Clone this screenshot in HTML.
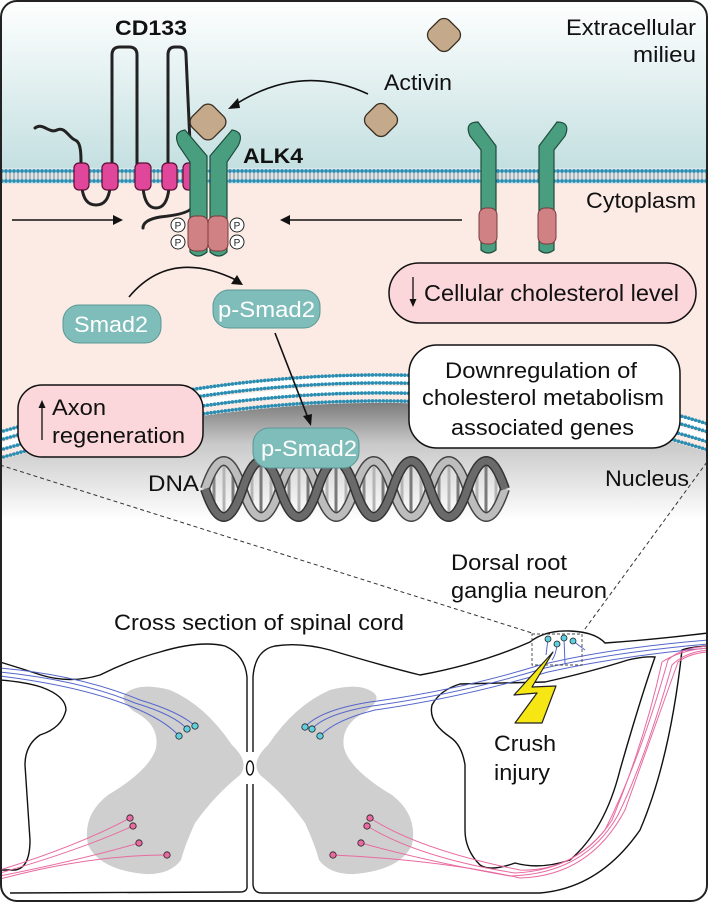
<!DOCTYPE html>
<html><head><meta charset="utf-8"><style>
html,body{margin:0;padding:0;background:#fff;}
svg{display:block;}
text{font-family:"Liberation Sans",Arial,sans-serif;}
</style></head><body>
<svg width="708" height="902" viewBox="0 0 708 902" xmlns="http://www.w3.org/2000/svg">
<defs>
<linearGradient id="ec" x1="0" y1="0" x2="0" y2="1">
<stop offset="0" stop-color="#ffffff"/><stop offset="1" stop-color="#c3dfe0"/>
</linearGradient>
<linearGradient id="nuc" x1="0" y1="0" x2="0" y2="1">
<stop offset="0" stop-color="#7d7d7d"/><stop offset="0.35" stop-color="#c9c9c9"/><stop offset="1" stop-color="#ffffff"/>
</linearGradient>
<pattern id="mem" x="0" y="168" width="4" height="16" patternUnits="userSpaceOnUse">
<rect width="4" height="16" fill="#d9e6ea"/>
<line x1="2" y1="3" x2="2" y2="13" stroke="#8a8a8a" stroke-width="1"/>
<circle cx="2" cy="3" r="1.9" fill="#2a8db2"/>
<circle cx="2" cy="13" r="1.9" fill="#2a8db2"/>
</pattern>
<clipPath id="frame"><rect x="1" y="1" width="706" height="900" rx="16"/></clipPath>
</defs>

<g clip-path="url(#frame)">
<rect x="0" y="0" width="708" height="172" fill="url(#ec)"/>
<rect x="0" y="180" width="708" height="300" fill="#fcebe4"/>
<path d="M0,460 Q380,350 708,452 L708,520 L0,520 Z" fill="url(#nuc)"/>
<rect x="0" y="520" width="708" height="382" fill="#fff"/>
<rect x="0" y="168" width="708" height="16" fill="url(#mem)"/>
<g fill="none" stroke-linecap="round">
<path d="M0,436 Q380,326 708,428" stroke="#fff" stroke-width="6"/>
<path d="M0,446 Q380,336 708,438" stroke="#fff" stroke-width="6"/>
<path d="M0,432 Q380,322 708,424" stroke="#2a8db2" stroke-width="3.6" stroke-dasharray="0 3.6"/>
<path d="M0,440 Q380,330 708,432" stroke="#2a8db2" stroke-width="3.6" stroke-dasharray="0 3.6"/>
<path d="M0,450 Q380,340 708,442" stroke="#2a8db2" stroke-width="3.6" stroke-dasharray="0 3.6"/>
<path d="M0,458 Q380,348 708,450" stroke="#2a8db2" stroke-width="3.6" stroke-dasharray="0 3.6"/>
</g>

<line x1="0" y1="465" x2="532" y2="633" stroke="#333" stroke-width="1" stroke-dasharray="4 3"/>
<line x1="707" y1="462" x2="582" y2="633" stroke="#333" stroke-width="1" stroke-dasharray="4 3"/>

<!-- DNA -->
<g>
<g stroke-width="3">
<line x1="214" y1="468" x2="214" y2="510" stroke="#8a8a8a"/><line x1="224" y1="461" x2="224" y2="517" stroke="#b5b5b5"/><line x1="233" y1="468" x2="233" y2="510" stroke="#7a7a7a"/>
<line x1="252" y1="468" x2="252" y2="510" stroke="#b5b5b5"/><line x1="261" y1="461" x2="261" y2="517" stroke="#7a7a7a"/><line x1="271" y1="468" x2="271" y2="510" stroke="#b5b5b5"/>
<line x1="289" y1="468" x2="289" y2="510" stroke="#8a8a8a"/><line x1="299" y1="461" x2="299" y2="517" stroke="#b5b5b5"/><line x1="308" y1="468" x2="308" y2="510" stroke="#7a7a7a"/>
<line x1="327" y1="468" x2="327" y2="510" stroke="#b5b5b5"/><line x1="336" y1="461" x2="336" y2="517" stroke="#7a7a7a"/><line x1="346" y1="468" x2="346" y2="510" stroke="#b5b5b5"/>
<line x1="364" y1="468" x2="364" y2="510" stroke="#8a8a8a"/><line x1="374" y1="461" x2="374" y2="517" stroke="#b5b5b5"/><line x1="383" y1="468" x2="383" y2="510" stroke="#7a7a7a"/>
<line x1="402" y1="468" x2="402" y2="510" stroke="#b5b5b5"/><line x1="411" y1="461" x2="411" y2="517" stroke="#7a7a7a"/><line x1="421" y1="468" x2="421" y2="510" stroke="#b5b5b5"/>
<line x1="439" y1="468" x2="439" y2="510" stroke="#8a8a8a"/><line x1="449" y1="461" x2="449" y2="517" stroke="#b5b5b5"/><line x1="458" y1="468" x2="458" y2="510" stroke="#7a7a7a"/>
<line x1="477" y1="468" x2="477" y2="510" stroke="#b5b5b5"/><line x1="486" y1="461" x2="486" y2="517" stroke="#7a7a7a"/><line x1="496" y1="468" x2="496" y2="510" stroke="#b5b5b5"/>
</g>
<path d="M205,489 q18.75,-56 37.5,0 t37.5,0 t37.5,0 t37.5,0 t37.5,0 t37.5,0 t37.5,0 t37.5,0" fill="none" stroke="#444" stroke-width="10"/>
<path d="M205,489 q18.75,-56 37.5,0 t37.5,0 t37.5,0 t37.5,0 t37.5,0 t37.5,0 t37.5,0 t37.5,0" fill="none" stroke="#bdbdbd" stroke-width="7"/>
<path d="M205,489 q18.75,56 37.5,0 t37.5,0 t37.5,0 t37.5,0 t37.5,0 t37.5,0 t37.5,0 t37.5,0" fill="none" stroke="#333" stroke-width="10"/>
<path d="M205,489 q18.75,56 37.5,0 t37.5,0 t37.5,0 t37.5,0 t37.5,0 t37.5,0 t37.5,0 t37.5,0" fill="none" stroke="#6a6a6a" stroke-width="7"/>
</g>

<!-- CD133 -->
<g fill="none" stroke="#222" stroke-width="3" stroke-linecap="round">
<path d="M35,128 c8,-6 14,6 22,2 c8,-4 12,8 18,10 c6,2 6,14 6,23"/>
<path d="M112,165 L112,55 Q112,47 120,47 L129,47 Q137,47 137,55 L137,165"/>
<path d="M168,165 L168,55 Q168,47 175,47 L179,47 Q186,47 186,55 L191,165"/>
<path d="M82,188 Q84,205 96,205 Q108,205 110,188"/>
<path d="M143,188 Q145,208 156,208 Q167,208 169,188"/>
<path d="M192,190 L192,207 Q190,214 160,217 Q143,220 143,228"/>
</g>
<g fill="#e0479a" stroke="#5a1035" stroke-width="1.2">
<rect x="74" y="163" width="15" height="27" rx="5"/>
<rect x="102" y="163" width="16" height="27" rx="5"/>
<rect x="135" y="163" width="16" height="27" rx="5"/>
<rect x="162" y="163" width="15" height="27" rx="5"/>
<rect x="183" y="163" width="16" height="27" rx="5"/>
</g>

<g fill="#4a9e80" stroke="#1e4d3d" stroke-width="1.2">
<path d="M190,252 L190,162 L179,146 Q172,132 185,130 L207,156 L207,252 Q198,260 190,252 Z"/>
<path d="M210,252 L210,156 L232,130 Q245,132 238,146 L227,162 L227,252 Q219,260 210,252 Z"/>
<path d="M481,250 L481,150 L470,136 Q464,122 478,122 L496,146 L496,250 Q488,256 481,250 Z"/>
<path d="M539,250 L539,146 L557,122 Q571,122 565,136 L554,150 L554,250 Q546,256 539,250 Z"/>
</g>
<g fill="#d08184" stroke="#7a3a3c" stroke-width="1">
<rect x="188" y="216" width="20" height="35" rx="7"/>
<rect x="208" y="216" width="20" height="35" rx="7"/>
<rect x="479" y="208" width="18" height="36" rx="7"/>
<rect x="538" y="208" width="18" height="36" rx="7"/>
</g>
<g fill="#fff" stroke="#222" stroke-width="1">
<circle cx="178" cy="225" r="7"/><circle cx="178" cy="242" r="7"/>
<circle cx="237" cy="225" r="7"/><circle cx="237" cy="242" r="7"/>
</g>
<g font-size="10" text-anchor="middle" fill="#222">
<text x="178" y="229">P</text><text x="178" y="246">P</text>
<text x="237" y="229">P</text><text x="237" y="246">P</text>
</g>

<g fill="#c4a98a" stroke="#3a2e22" stroke-width="1.3">
<rect x="-15" y="-15" width="30" height="30" rx="8" transform="translate(208,122) rotate(45)"/>
<rect x="-14" y="-14" width="28" height="28" rx="8" transform="translate(381,120) rotate(45)"/>
<rect x="-14" y="-14" width="28" height="28" rx="8" transform="translate(444,35) rotate(45)"/>
</g>

<!-- Smad pills -->
<rect x="63" y="305" width="98" height="38" rx="16" fill="#7fbdba" stroke="#5a9794" stroke-width="1"/>
<rect x="213" y="290" width="107" height="38" rx="16" fill="#7fbdba" stroke="#5a9794" stroke-width="1"/>
<rect x="253" y="428" width="106" height="40" rx="16" fill="#7fbdba" stroke="#5a9794" stroke-width="1"/>
<g fill="#fff" font-size="22">
<text x="74" y="332" textLength="74" lengthAdjust="spacingAndGlyphs">Smad2</text>
<text x="218" y="317" textLength="97" lengthAdjust="spacingAndGlyphs">p-Smad2</text>
<text x="261" y="456" textLength="96" lengthAdjust="spacingAndGlyphs">p-Smad2</text>
</g>

<!-- boxes -->
<rect x="389" y="263" width="307" height="60" rx="30" fill="#fbd6da" stroke="#111" stroke-width="1.5"/>
<rect x="409" y="345" width="271" height="103" rx="28" fill="#fff" stroke="#111" stroke-width="1.5"/>
<rect x="18" y="385" width="185" height="72" rx="24" fill="#fbd6da" stroke="#111" stroke-width="1.5"/>

<!-- arrows -->
<g stroke="#111" stroke-width="1.6" fill="none">
<path d="M368,94 Q300,62 233,106"/>
<line x1="12" y1="220" x2="116" y2="220"/>
<line x1="462" y1="220" x2="287" y2="220"/>
<path d="M129,297 Q170,248 236,280"/>
<line x1="275" y1="333" x2="308" y2="418"/>
</g>
<line x1="413" y1="277" x2="413" y2="301" stroke="#111" stroke-width="1.3"/>
<line x1="42" y1="405" x2="42" y2="440" stroke="#111" stroke-width="1.3"/>
<g fill="#111">
<path d="M228,109 L238,98 L240,108 Z"/>
<path d="M123,220 L113,215 L113,225 Z"/>
<path d="M280,220 L290,215 L290,225 Z"/>
<path d="M243,285 L231,284 L237,275 Z"/>
<path d="M311,426 L303,416 L312,414 Z"/>
<path d="M413,307 L409.5,299 L416.5,299 Z"/>
<path d="M42,400 L38.5,408 L45.5,408 Z"/>
</g>

<g fill="#111" font-size="22">
<text x="424" y="301" textLength="255" lengthAdjust="spacingAndGlyphs" font-size="23">Cellular cholesterol level</text>
<text x="445" y="378" textLength="192" lengthAdjust="spacingAndGlyphs">Downregulation of</text>
<text x="422" y="405" textLength="242" lengthAdjust="spacingAndGlyphs">cholesterol metabolism</text>
<text x="451" y="435" textLength="183" lengthAdjust="spacingAndGlyphs">associated genes</text>
<text x="52" y="415" textLength="54" lengthAdjust="spacingAndGlyphs">Axon</text>
<text x="52" y="443" textLength="133" lengthAdjust="spacingAndGlyphs">regeneration</text>
<text x="566" y="35" textLength="130" lengthAdjust="spacingAndGlyphs">Extracellular</text>
<text x="633" y="62" textLength="63" lengthAdjust="spacingAndGlyphs">milieu</text>
<text x="384" y="90" textLength="68" lengthAdjust="spacingAndGlyphs">Activin</text>
<text x="586" y="208" textLength="110" lengthAdjust="spacingAndGlyphs">Cytoplasm</text>
<text x="605" y="486" textLength="84" lengthAdjust="spacingAndGlyphs">Nucleus</text>
<text x="148" y="491" textLength="51" lengthAdjust="spacingAndGlyphs">DNA</text>
<text x="451" y="570" textLength="116" lengthAdjust="spacingAndGlyphs">Dorsal root</text>
<text x="451" y="598" textLength="156" lengthAdjust="spacingAndGlyphs">ganglia neuron</text>
<text x="114" y="630" textLength="290" lengthAdjust="spacingAndGlyphs">Cross section of spinal cord</text>
<text x="494" y="751" textLength="62" lengthAdjust="spacingAndGlyphs">Crush</text>
<text x="494" y="780" textLength="56" lengthAdjust="spacingAndGlyphs">injury</text>
<text x="115" y="35" font-weight="bold" font-size="21" textLength="72" lengthAdjust="spacingAndGlyphs">CD133</text>
<text x="243" y="163" font-weight="bold" font-size="21" textLength="60" lengthAdjust="spacingAndGlyphs">ALK4</text>
</g>

<!-- spinal cord -->
<g fill="#cfcfcf">
<path d="M126,693 Q140,682 170,690 Q205,705 232,745 Q250,762 240,775 Q215,795 195,823 Q185,845 181,860 Q170,875 145,874 Q100,870 88,845 Q82,815 108,795 Q150,770 156,748 Q160,725 135,712 Q118,700 126,693 Z"/>
<path d="M374,693 Q360,682 330,690 Q295,705 268,745 Q250,762 260,775 Q285,795 305,823 Q315,845 319,860 Q330,875 355,874 Q400,870 412,845 Q418,815 392,795 Q350,770 344,748 Q340,725 365,712 Q382,700 374,693 Z"/>
</g>
<g fill="none" stroke="#111" stroke-width="1.4">
<path d="M0,662 Q20,668 41,675 Q70,684 100,675 Q130,660 160,652 Q200,640 225,646 Q245,655 247,677 L247,752"/>
<path d="M0,680 Q25,682 41,687 Q66,696 66,710 Q62,728 40,735 Q25,745 25,765 L30,840 Q30,868 15,870 L0,870"/>
<path d="M247,784 L247,885 Q248,892 240,892 L10,893"/>
<ellipse cx="250" cy="768" rx="3.5" ry="7"/>
<path d="M253,752 L253,677 Q255,650 275,646 Q300,642 330,650 Q380,665 420,675 Q480,664 530,642 Q545,630 570,631 Q595,632 605,643 Q650,640 708,633"/>
<path d="M253,784 L253,885 Q254,893 262,893 L540,893 Q600,888 640,830 Q670,760 682,650 Q690,647 708,646"/>
<path d="M655,657 Q640,700 620,770 Q605,830 570,860 Q540,870 515,863 Q490,872 480,865 Q465,850 465,830 L465,765 Q462,745 450,737 Q428,722 432,705 Q440,690 460,684 Q510,683 545,682 Q590,672 628,660 Q645,656 655,657 Z"/>
</g>
<g fill="none" stroke="#5566cc" stroke-width="1">
<path d="M0,668 Q80,675 140,700 Q180,712 195,726"/>
<path d="M0,672 Q80,680 135,703 Q175,715 187,729"/>
<path d="M0,676 Q80,686 130,706 Q165,720 179,736"/>
<path d="M305,727 Q320,710 370,702 Q460,690 540,665 Q610,648 708,640"/>
<path d="M312,729 Q325,714 372,706 Q460,694 545,668 Q615,652 708,644"/>
<path d="M320,736 Q335,720 375,710 Q460,698 548,672 Q620,656 708,648"/>
<path d="M548,639 L546,655"/><path d="M557,644 Q556,655 552,660"/><path d="M564,638 L565,664"/><path d="M573,641 L585,650"/>
</g>
<g fill="none" stroke="#e86aa0" stroke-width="1">
<path d="M130,818 Q80,845 0,870"/>
<path d="M133,826 Q80,850 0,873"/>
<path d="M139,843 Q80,860 0,876"/>
<path d="M167,855 Q90,855 0,879"/>
<path d="M370,818 Q420,850 520,870 Q570,872 605,830 Q640,760 668,660 Q680,648 708,646"/>
<path d="M367,826 Q420,858 515,873 Q580,870 612,820 Q645,740 662,662 Q680,650 708,648"/>
<path d="M361,843 Q430,862 510,876 Q585,874 618,815 Q645,760 672,665 Q685,652 708,650"/>
<path d="M333,855 Q440,860 520,878 Q590,876 625,810 Q650,740 678,662 Q690,653 708,652"/>
</g>
<g fill="#5fd0e0" stroke="#222" stroke-width="0.8">
<circle cx="179" cy="736" r="3.2"/><circle cx="187" cy="729" r="3.2"/><circle cx="195" cy="726" r="3.2"/>
<circle cx="305" cy="727" r="3.2"/><circle cx="312" cy="729" r="3.2"/><circle cx="320" cy="736" r="3.2"/>
<circle cx="548" cy="639" r="3"/><circle cx="557" cy="644" r="3"/><circle cx="564" cy="638" r="3"/><circle cx="573" cy="641" r="3"/>
</g>
<g fill="#e86aa0" stroke="#222" stroke-width="0.8">
<circle cx="130" cy="818" r="3.2"/><circle cx="133" cy="826" r="3.2"/><circle cx="139" cy="843" r="3.2"/><circle cx="167" cy="855" r="3.2"/>
<circle cx="370" cy="818" r="3.2"/><circle cx="367" cy="826" r="3.2"/><circle cx="361" cy="843" r="3.2"/><circle cx="333" cy="855" r="3.2"/>
</g>
<rect x="532" y="634" width="50" height="31" fill="none" stroke="#444" stroke-width="0.9" stroke-dasharray="3 2"/>
<path d="M553,652 L514,695 L537,693 L515,723 L542,723 L556,686 L532,687 Z" fill="#f5e614" stroke="#222" stroke-width="1.2" stroke-linejoin="round"/>
</g>
<rect x="1" y="1" width="706" height="900" rx="16" fill="none" stroke="#222" stroke-width="2"/>
</svg>
</body></html>
